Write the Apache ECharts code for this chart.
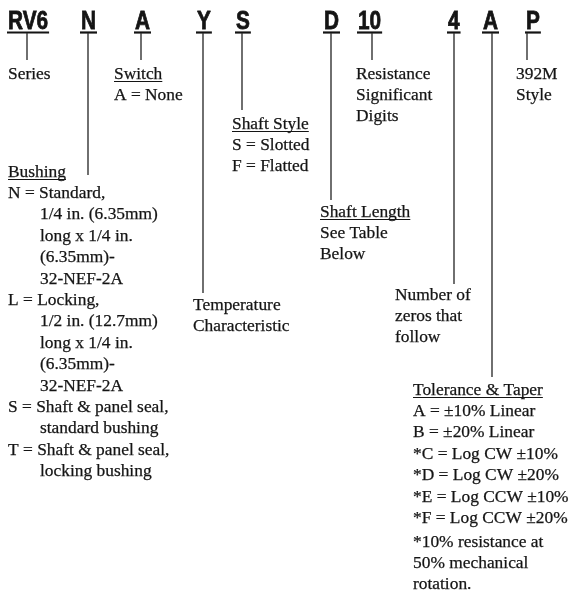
<!DOCTYPE html>
<html><head><meta charset="utf-8">
<script src="https://cdn.jsdelivr.net/npm/echarts@6/dist/echarts.min.js"></script>
<style>html,body{margin:0;padding:0;background:#fff}#c{width:569px;height:601px}</style>
</head><body><div id="c"></div>
<script>
// ---- content ----
const codes = ['RV6', 'N', 'A', 'Y', 'S', 'D', '10', '4', 'A', 'P'];
const seriesText = ['Series'];
const switchText = ['Switch', 'A = None'];
const shaftStyleText = ['Shaft Style', 'S = Slotted', 'F = Flatted'];
const resistanceText = ['Resistance', 'Significant', 'Digits'];
const styleText = ['392M', 'Style'];
const bushingText = ['Bushing', 'N = Standard,', '1/4 in. (6.35mm)', 'long x 1/4 in.', '(6.35mm)-', '32-NEF-2A',
  'L = Locking,', '1/2 in. (12.7mm)', 'long x 1/4 in.', '(6.35mm)-', '32-NEF-2A',
  'S = Shaft & panel seal,', 'standard bushing', 'T = Shaft & panel seal,', 'locking bushing'];
const temperatureText = ['Temperature', 'Characteristic'];
const shaftLengthText = ['Shaft Length', 'See Table', 'Below'];
const zerosText = ['Number of', 'zeros that', 'follow'];
const toleranceText = ['Tolerance & Taper', 'A = \u00b110% Linear', 'B = \u00b120% Linear', '*C = Log CW \u00b110%',
  '*D = Log CW \u00b120%', '*E = Log CCW \u00b110%', '*F = Log CCW \u00b120%'];
const noteText = ['*10% resistance at', '50% mechanical', 'rotation.'];

// ---- layout ----
const codeLeft = [8, 81, 135, 197, 236, 324, 358, 448, 483, 526];
const leaderX = [27, 88, 141, 203, 242, 331, 372, 454, 492, 527];
const leaderEnd = [60, 175, 60, 293, 110, 200, 60, 284, 377, 60];
const LH = 21.4;
const blocks = [
  { lines: seriesText, x: 8, y: 74, head: false },
  { lines: switchText, x: 114, y: 74, head: true },
  { lines: shaftStyleText, x: 232, y: 124, head: true },
  { lines: resistanceText, x: 356, y: 74, head: false },
  { lines: styleText, x: 516, y: 74, head: false },
  { lines: bushingText, x: 8, y: 172, head: true, indent: [0,0,1,1,1,1,0,1,1,1,1,0,1,0,1] },
  { lines: temperatureText, x: 193, y: 305, head: false },
  { lines: shaftLengthText, x: 320, y: 212, head: true },
  { lines: zerosText, x: 395, y: 295, head: false },
  { lines: toleranceText, x: 413, y: 390, head: true },
  { lines: noteText, x: 413, y: 542, head: false }
];

const INK = '#141414';
const serifFont = '17.4px "Liberation Serif", "Times New Roman", serif';
const codeFont = 'bold 26px "Liberation Sans", Arial, sans-serif';
const CODE_SX = 0.8;
const cv = document.createElement('canvas').getContext('2d');
function w(text, font) { cv.font = font; return cv.measureText(text).width; }

const els = [];
codes.forEach((c, i) => {
  const x = codeLeft[i];
  els.push({ type: 'text', x: x, y: 22, scaleX: CODE_SX, style: { text: c, font: codeFont, fill: INK, stroke: INK, lineWidth: 0.8, verticalAlign: 'middle', align: 'left' } });
  const cw = w(c, codeFont) * CODE_SX;
  els.push({ type: 'line', shape: { x1: x - 1, y1: 32.5, x2: x + cw + 1, y2: 32.5 }, style: { stroke: INK, lineWidth: 2.2 } });
  els.push({ type: 'line', shape: { x1: leaderX[i], y1: 33, x2: leaderX[i], y2: leaderEnd[i] }, style: { stroke: '#333', lineWidth: 1.4 } });
});
blocks.forEach(b => {
  b.lines.forEach((t, j) => {
    const ind = b.indent && b.indent[j] ? 32 : 0;
    const x = b.x + ind, y = b.y + j * LH;
    els.push({ type: 'text', x: x, y: y, style: { text: t, font: serifFont, fill: INK, stroke: INK, lineWidth: 0.25, verticalAlign: 'middle', align: 'left' } });
    if (b.head && j === 0) {
      els.push({ type: 'line', shape: { x1: x, y1: y + 7.5, x2: x + w(t, serifFont), y2: y + 7.5 }, style: { stroke: INK, lineWidth: 1 } });
    }
  });
});

const chart = echarts.init(document.getElementById('c'), null, { renderer: 'canvas' });
chart.setOption({ backgroundColor: '#fff', animation: false, graphic: { elements: els } });
</script></body></html>
